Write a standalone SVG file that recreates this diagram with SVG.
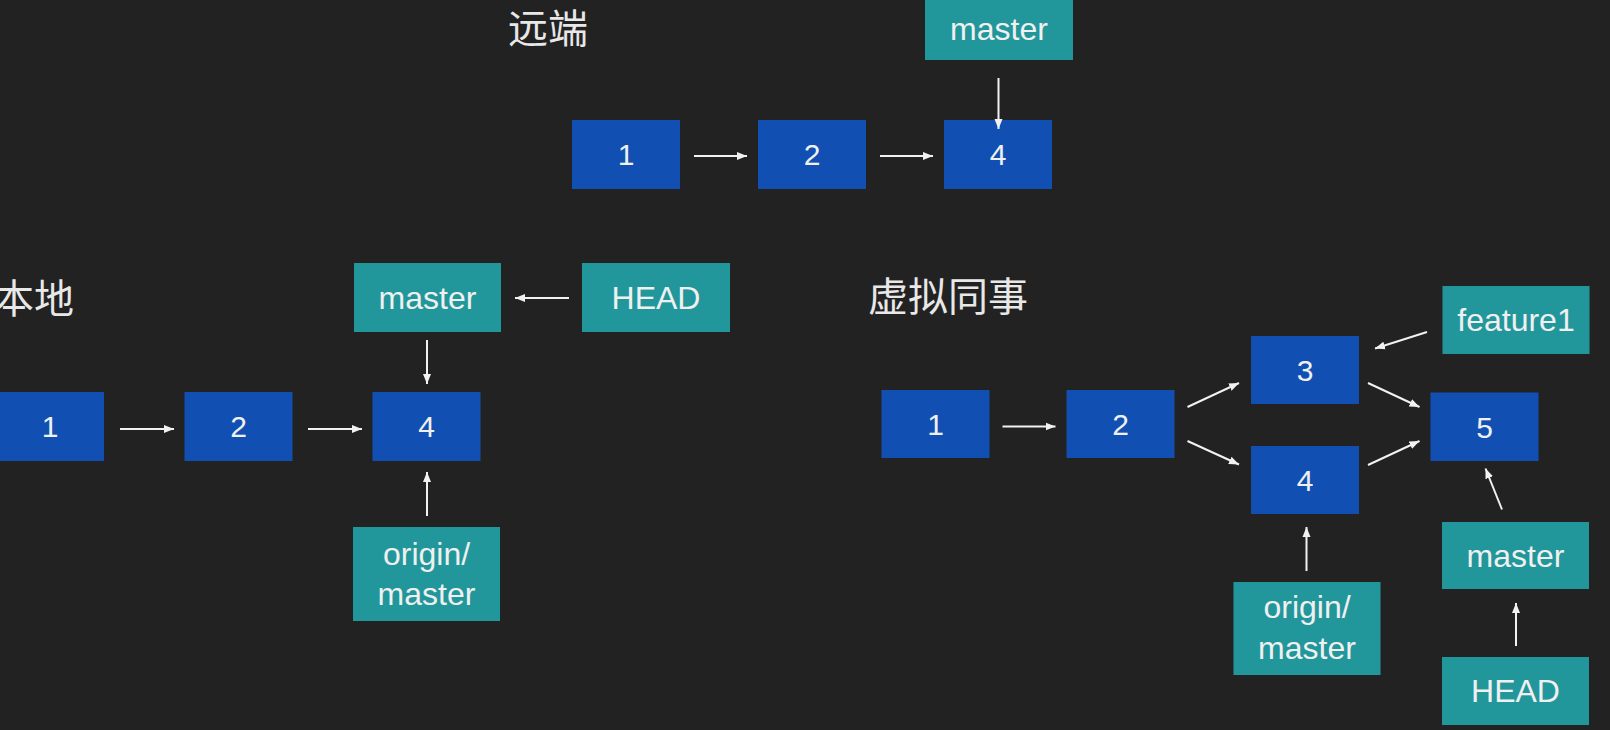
<svg xmlns="http://www.w3.org/2000/svg" width="1610" height="730" viewBox="0 0 1610 730">
<defs>
<marker id="ah" markerUnits="userSpaceOnUse" markerWidth="12" markerHeight="10" refX="10" refY="5" orient="auto">
<path d="M0,1 L10,5 L0,9 Z" fill="#f2f2f2"/>
</marker>
<style>
.c{fill:#1150B2;}
.b{fill:#22979B;}
.t{font-family:"Liberation Sans",Arial,sans-serif;fill:#f0f0f0;text-anchor:middle;}
.d{font-size:30px;}
.l{font-size:32px;}
.h{font-family:"Noto Sans CJK SC","Noto Sans",sans-serif;font-size:40px;fill:#e8e8e8;}
.a{stroke:#f2f2f2;stroke-width:2;fill:none;marker-end:url(#ah);}
</style>
</defs>
<rect width="1610" height="730" fill="#222222"/>

<text class="h" x="508" y="43">远端</text>
<text class="h" x="-6" y="313">本地</text>
<text class="h" x="868" y="311">虚拟同事</text>

<g id="r-master"><rect class="b" x="925" y="-2" width="148" height="62"/><text class="t l" x="999" y="40">master</text></g>
<g id="r-c1"><rect class="c" x="572" y="120" width="108" height="69"/><text class="t d" x="626" y="165">1</text></g>
<g id="r-c2"><rect class="c" x="758" y="120" width="108" height="69"/><text class="t d" x="812" y="165">2</text></g>
<g id="r-c4"><rect class="c" x="944" y="120" width="108" height="69"/><text class="t d" x="998" y="165">4</text></g>

<g id="l-master"><rect class="b" x="354" y="263" width="147" height="69"/><text class="t l" x="427.5" y="309">master</text></g>
<g id="l-head"><rect class="b" x="582" y="263" width="148" height="69"/><text class="t l" x="656" y="309">HEAD</text></g>
<g id="l-c1"><rect class="c" x="-4" y="392" width="108" height="69"/><text class="t d" x="50" y="437">1</text></g>
<g id="l-c2"><rect class="c" x="184.5" y="392" width="108" height="69"/><text class="t d" x="238.5" y="437">2</text></g>
<g id="l-c4"><rect class="c" x="372.5" y="392" width="108" height="69"/><text class="t d" x="426.5" y="437">4</text></g>
<g id="l-origin"><rect class="b" x="353" y="527" width="147" height="94"/><text class="t l" x="426.5" y="565">origin/</text><text class="t l" x="426.5" y="605">master</text></g>

<g id="v-c1"><rect class="c" x="881.5" y="390" width="108" height="68"/><text class="t d" x="935.5" y="435">1</text></g>
<g id="v-c2"><rect class="c" x="1066.5" y="390" width="108" height="68"/><text class="t d" x="1120.5" y="435">2</text></g>
<g id="v-c3"><rect class="c" x="1251" y="336" width="108" height="68"/><text class="t d" x="1305" y="381">3</text></g>
<g id="v-c4"><rect class="c" x="1251" y="446" width="108" height="68"/><text class="t d" x="1305" y="491">4</text></g>
<g id="v-c5"><rect class="c" x="1430.5" y="392.5" width="108" height="68.5"/><text class="t d" x="1484.5" y="438">5</text></g>
<g id="v-feature1"><rect class="b" x="1442.5" y="286" width="147" height="68"/><text class="t l" x="1516" y="331">feature1</text></g>
<g id="v-master"><rect class="b" x="1442" y="522" width="147" height="67"/><text class="t l" x="1515.5" y="567">master</text></g>
<g id="v-head"><rect class="b" x="1442" y="657" width="147" height="68"/><text class="t l" x="1515.5" y="702">HEAD</text></g>
<g id="v-origin"><rect class="b" x="1233.5" y="582" width="147" height="93"/><text class="t l" x="1307" y="618">origin/</text><text class="t l" x="1307" y="659">master</text></g>

<g id="connectors">
<line class="a" x1="694" y1="156" x2="747" y2="156"/>
<line class="a" x1="880" y1="156" x2="933" y2="156"/>
<line class="a" x1="998.5" y1="78" x2="998.5" y2="129"/>

<line class="a" x1="120" y1="429" x2="174" y2="429"/>
<line class="a" x1="308" y1="429" x2="362" y2="429"/>
<line class="a" x1="427" y1="340" x2="427" y2="384"/>
<line class="a" x1="569" y1="298" x2="515" y2="298"/>
<line class="a" x1="427" y1="516" x2="427" y2="472"/>

<line class="a" x1="1002.5" y1="426.5" x2="1055.5" y2="426.5"/>
<line class="a" x1="1187.5" y1="407" x2="1239" y2="383"/>
<line class="a" x1="1187.5" y1="441" x2="1239" y2="464.5"/>
<line class="a" x1="1368" y1="383" x2="1419.5" y2="407"/>
<line class="a" x1="1368" y1="465" x2="1419.5" y2="441"/>
<line class="a" x1="1427" y1="332" x2="1375" y2="348.5"/>
<line class="a" x1="1502" y1="509.5" x2="1485.5" y2="468.5"/>
<line class="a" x1="1306.5" y1="571" x2="1306.5" y2="527"/>
<line class="a" x1="1516" y1="646" x2="1516" y2="603"/>
</g>
</svg>
